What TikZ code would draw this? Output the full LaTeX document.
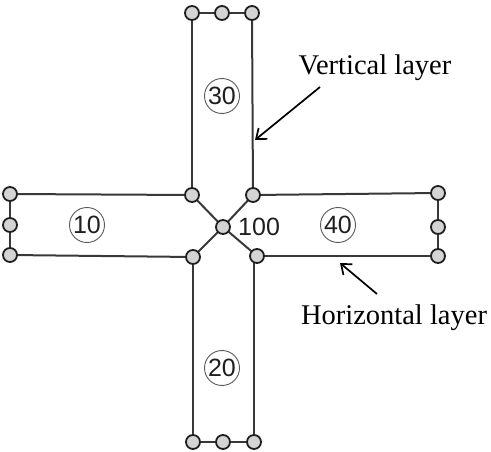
\documentclass[tikz,border=0pt]{standalone}
\usepackage{fontspec}
\setmainfont{Liberation Serif}
\newfontfamily\numfont{Liberation Sans}
\usetikzlibrary{arrows.meta,backgrounds}
\begin{document}
\begin{tikzpicture}[x=1pt,y=-1pt,
  edge/.style={draw=black!78, line width=2pt},
  joint/.style={circle, draw=black!88, fill=black!17, line width=1.8pt, minimum size=14pt, inner sep=0pt},
  tag/.style={circle, draw=black!65, line width=0.9pt, minimum size=35pt, inner sep=0pt, font=\numfont\fontsize{25}{25}\selectfont, text=black!88},
  caption/.style={font=\fontsize{28.5}{28.5}\selectfont, inner sep=0pt},
  pointer/.style={-{Straight Barb[length=9pt,width=14pt]}, line width=1.7pt, black}
]
\path[use as bounding box] (0,0) rectangle (491,452);
% joints
\node[joint] (t1) at (192,13) {};
\node[joint] (t2) at (222,13) {};
\node[joint] (t3) at (252,13) {};
\node[joint] (TL) at (192,195) {};
\node[joint] (TR) at (253,195) {};
\node[joint] (C)  at (223,227) {};
\node[joint] (BL) at (193,257) {};
\node[joint] (BR) at (257,256) {};
\node[joint] (b1) at (193,442) {};
\node[joint] (b2) at (223,442) {};
\node[joint] (b3) at (254,442) {};
\node[joint] (l1) at (10,194) {};
\node[joint] (l2) at (10,225) {};
\node[joint] (l3) at (10,255) {};
\node[joint] (r1) at (438,193) {};
\node[joint] (r2) at (438,227) {};
\node[joint] (r3) at (438,256) {};
\begin{pgfonlayer}{background}
\draw[edge] (t1.center) -- (t2.center) -- (t3.center);
\draw[edge] (t1.center) -- (TL.center);
\draw[edge] (t3.center) -- (TR.center);
\draw[edge] (l1.center) -- (l2.center) -- (l3.center);
\draw[edge] (l1.center) -- (TL.center);
\draw[edge] (l3.center) -- (BL.center);
\draw[edge] (r1.center) -- (r2.center) -- (r3.center);
\draw[edge] (r1.center) -- (TR.center);
\draw[edge] (r3.center) -- (BR.center);
\draw[edge] (b1.center) -- (b2.center) -- (b3.center);
\draw[edge] (b1.center) -- (BL.center);
\draw[edge] (b3.center) -- (b3.center |- BR.center);
\draw[edge] (TL.center) -- (C.center) -- (BR.center);
\draw[edge] (TR.center) -- (C.center) -- (BL.center);
\end{pgfonlayer}
% tags
\node[tag] (n30) at (222,96) {30};
\node[tag] (n10) at (87,225) {10};
\node[tag] (n40) at (338,225) {40};
\node[tag] (n20) at (222,368) {20};
\node[anchor=west, inner sep=0pt, font=\numfont\fontsize{25}{25}\selectfont, text=black!88] (n100) at (238,227) {100};
% captions
\node[caption, anchor=base] (vl) at (375,75) {Vertical layer};
\node[caption, anchor=base] (hl) at (394,324) {Horizontal layer};
\coordinate (vtail) at (320,87);
\coordinate (vhead) at (255,140);
\coordinate (htail) at (377,294);
\coordinate (hhead) at (340,263);
\draw[pointer] (vtail) -- (vhead);
\draw[pointer] (htail) -- (hhead);
\end{tikzpicture}
\end{document}
